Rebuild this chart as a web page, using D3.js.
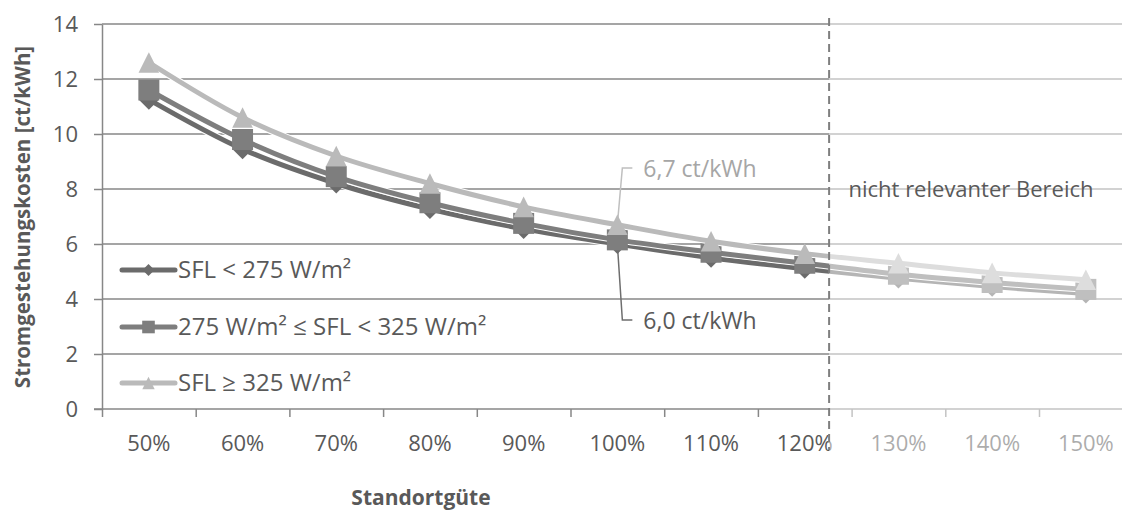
<!DOCTYPE html>
<html>
<head>
<meta charset="utf-8">
<script src="https://cdn.jsdelivr.net/npm/d3@7"></script>
<style>
  body { margin: 0; background: #fff; }
  svg text { font-family: "Open Sans", "Noto Sans", sans-serif; }
</style>
</head>
<body>
<svg id="chart" width="1122" height="510"></svg>
<script>
// Standortgüte categories
const categories = ["50%", "60%", "70%", "80%", "90%", "100%", "110%", "120%", "130%", "140%", "150%"];
// Stromgestehungskosten in ct/kWh per Strahlungsflussklasse
const sflLow  = [11.25, 9.45, 8.2, 7.27, 6.55, 6.0, 5.5, 5.1, 4.75, 4.45, 4.2];
const sflMid  = [11.6, 9.8, 8.45, 7.5, 6.75, 6.15, 5.7, 5.3, 4.9, 4.6, 4.35];
const sflHigh = [12.6, 10.6, 9.2, 8.2, 7.35, 6.7, 6.1, 5.65, 5.3, 4.95, 4.7];
const seriesNames = ["SFL < 275 W/m²", "275 W/m² ≤ SFL < 325 W/m²", "SFL ≥ 325 W/m²"];
const yTicks = [0, 2, 4, 6, 8, 10, 12, 14];
// position of the boundary of the relevant range, in category units from the left axis
const dividerAt = 7.76;
const labelHigh = "6,7 ct/kWh";
const labelLow = "6,0 ct/kWh";
const regionLabel = "nicht relevanter Bereich";

const svg = d3.select("#chart");
const W = 1122, H = 510;
const plotLeft = 102, plotRight = 1132.7, plotTop = 24, plotBottom = 409;
const textColor = "#595959";
const gridColor = "#878787";
const fontTick = 22, fontText = 23, fontLegend = 24;

const xBand = d3.scaleBand().domain(categories).range([plotLeft, plotRight]).padding(0);
const xIdx = d3.scaleLinear().domain([0, categories.length]).range([plotLeft, plotRight]);
const y = d3.scaleLinear().domain([0, 14]).range([plotBottom, plotTop]);
const cx = c => xBand(c) + xBand.bandwidth() / 2;

// horizontal gridlines
svg.append("g").selectAll("line").data(yTicks.filter(t => t > 0)).join("line")
  .attr("x1", plotLeft).attr("x2", W)
  .attr("y1", d => y(d)).attr("y2", d => y(d))
  .attr("stroke", gridColor).attr("stroke-width", 1.5);

// y axis
const yAxis = svg.append("g").attr("transform", `translate(${plotLeft},0)`)
  .call(d3.axisLeft(y).tickValues(yTicks).tickSize(8).tickSizeOuter(0).tickPadding(16));
yAxis.select(".domain").attr("stroke", gridColor).attr("stroke-width", 1.5);
yAxis.selectAll(".tick line").attr("stroke", gridColor).attr("stroke-width", 1.5);
yAxis.selectAll(".tick text").attr("fill", textColor).attr("font-size", fontTick)
  .attr("font-family", "Open Sans, sans-serif");

// x axis: tick marks at category boundaries
const xTicks = svg.append("g").attr("transform", `translate(0,${plotBottom})`)
  .call(d3.axisBottom(xIdx).tickValues(d3.range(categories.length + 1)).tickFormat("").tickSize(8).tickSizeOuter(0));
xTicks.select(".domain").remove();
xTicks.selectAll(".tick line").attr("stroke", gridColor).attr("stroke-width", 1.5);
svg.append("line").attr("x1", plotLeft - 8).attr("x2", W).attr("y1", plotBottom).attr("y2", plotBottom)
  .attr("stroke", gridColor).attr("stroke-width", 1.5);

// x axis labels centred in each category
const xLabels = svg.append("g").attr("transform", `translate(0,${plotBottom})`)
  .call(d3.axisBottom(xBand).tickSize(0).tickPadding(26));
xLabels.select(".domain").remove();
xLabels.selectAll(".tick text").attr("fill", textColor).attr("font-size", fontTick)
  .attr("font-family", "Open Sans, sans-serif");

// marker shapes
const triangle = { draw(ctx, s) { const h = s; ctx.moveTo(0, -h); ctx.lineTo(h, h); ctx.lineTo(-h, h); ctx.closePath(); } };
const square = { draw(ctx, s) { ctx.rect(-s, -s, 2 * s, 2 * s); } };
const diamond = { draw(ctx, s) { ctx.moveTo(0, -s); ctx.lineTo(s, 0); ctx.lineTo(0, s); ctx.lineTo(-s, 0); ctx.closePath(); } };

const series = [
  { name: seriesNames[0], values: sflLow,  color: "#6b6b6b", shape: diamond, size: 10 },
  { name: seriesNames[1], values: sflMid,  color: "#7e7e7e", shape: square,  size: 10.5 },
  { name: seriesNames[2], values: sflHigh, color: "#bababa", shape: triangle, size: 10.3 }
];

const line = d3.line().x((d, i) => cx(categories[i])).y(d => y(d)).curve(d3.curveCatmullRom.alpha(0));

// value callouts with leader lines
const iRef = categories.indexOf("100%");
const px = cx(categories[iRef]);
svg.append("path")
  .attr("d", d3.line()([[px, y(sflHigh[iRef])], [px + 5, 168], [px + 15, 168]]))
  .attr("fill", "none").attr("stroke", "#bfbfbf").attr("stroke-width", 1.5);
svg.append("path")
  .attr("d", d3.line()([[px, y(sflLow[iRef])], [px + 5, 320], [px + 15, 320]]))
  .attr("fill", "none").attr("stroke", "#6e6e6e").attr("stroke-width", 1.5);

const plot = svg.append("g");
series.forEach(s => {
  plot.append("path").attr("d", line(s.values)).attr("fill", "none")
    .attr("stroke", "#fff").attr("stroke-width", 7).attr("stroke-linejoin", "round");
  plot.append("path").attr("d", line(s.values)).attr("fill", "none")
    .attr("stroke", s.color).attr("stroke-width", 5).attr("stroke-linejoin", "round");
  plot.append("g").selectAll("path").data(s.values).join("path")
    .attr("transform", (d, i) => `translate(${cx(categories[i])},${y(d)})`)
    .attr("d", d3.symbol().type(s.shape).size(s.size))
    .attr("fill", s.color);
});

svg.append("text").attr("x", px + 26).attr("y", 169).attr("dy", "0.35em")
  .attr("fill", "#a6a6a6").attr("font-size", fontText).text(labelHigh);
svg.append("text").attr("x", px + 26).attr("y", 321).attr("dy", "0.35em")
  .attr("fill", textColor).attr("font-size", fontText).text(labelLow);

// legend
const legend = svg.append("g");
const legendY = [270, 327, 383];
series.forEach((s, k) => {
  const g = legend.append("g").attr("transform", `translate(0,${legendY[k]})`);
  g.append("line").attr("x1", 122).attr("x2", 175).attr("stroke", s.color)
    .attr("stroke-width", 5).attr("stroke-linecap", "round");
  g.append("path").attr("transform", "translate(148.5,0)")
    .attr("d", d3.symbol().type(s.shape).size(s.size * 0.6)).attr("fill", s.color);
  g.append("text").attr("x", 178).attr("dy", "0.35em").attr("fill", textColor)
    .attr("font-size", fontLegend).text(s.name);
});

// fade the range beyond the divider
const xDiv = xIdx(dividerAt);
svg.append("rect").attr("x", xDiv).attr("y", 0).attr("width", W - xDiv).attr("height", 475)
  .attr("fill", "#fff").attr("fill-opacity", 0.5);

svg.append("line").attr("x1", xDiv).attr("x2", xDiv).attr("y1", 18).attr("y2", 450)
  .attr("stroke", "#7f7f7f").attr("stroke-width", 2).attr("stroke-dasharray", "8,5");

svg.append("text").attr("x", 971).attr("y", 189).attr("dy", "0.35em").attr("text-anchor", "middle")
  .attr("fill", textColor).attr("font-size", 22).text(regionLabel);

// axis titles
svg.append("text").attr("transform", "translate(23,217) rotate(-90)")
  .attr("text-anchor", "middle").attr("dy", "0.35em").attr("fill", textColor)
  .attr("font-size", 20.5).attr("font-weight", "bold").text("Stromgestehungskosten [ct/kWh]");
svg.append("text").attr("x", 421).attr("y", 498).attr("dy", "0.35em").attr("text-anchor", "middle")
  .attr("fill", textColor).attr("font-size", 21).attr("font-weight", "bold").text("Standortgüte");
</script>
</body>
</html>
